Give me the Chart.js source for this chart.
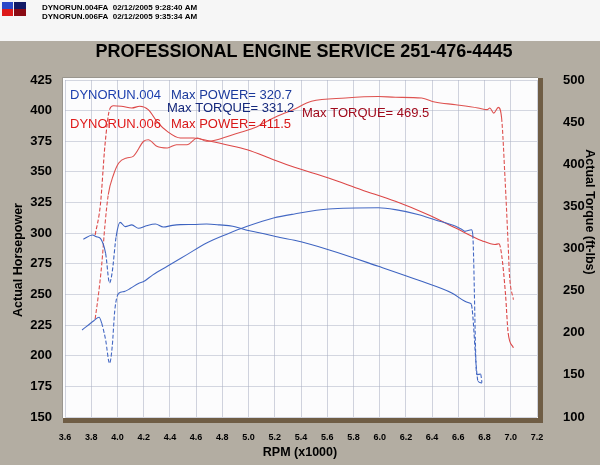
<!DOCTYPE html>
<html><head><meta charset="utf-8">
<script src="https://cdn.jsdelivr.net/npm/chart.js@4.4.0/dist/chart.umd.min.js"></script>
<style>html,body{margin:0;padding:0;background:#b3ada2;}canvas{display:block;}</style>
</head><body>
<canvas id="c" width="600" height="465"></canvas>
<script>
// ---- tick labels ----
const xTicks = [3.6,3.8,4.0,4.2,4.4,4.6,4.8,5.0,5.2,5.4,5.6,5.8,6.0,6.2,6.4,6.6,6.8,7.0,7.2];
const hpTicks = [150,175,200,225,250,275,300,325,350,375,400,425];
const tqTicks = [100,150,200,250,300,350,400,450,500];

// ---- DYNORUN.004 ----
const run004HpRpm = [3.73,3.82,3.86,3.88,3.91,3.94,3.96,3.98,4.01,4.05,4.10,4.16,4.20,4.27,4.38,4.53,4.68,4.83,4.99,5.19,5.35,5.61,5.99,6.12,6.30,6.42,6.58,6.63,6.65,6.70,6.71,6.74,6.77,6.78];
const run004Hp    = [221,228.6,231.4,226.5,212.8,193.8,207.4,237.3,251,252.3,255,259,260.5,266,273,282.5,292,299,305.6,312.4,315.7,319.7,320.7,319.2,315.1,311,305.6,302.8,301.5,302.8,298.8,184.6,185,178];
const run004TqRpm = [3.74,3.81,3.84,3.87,3.91,3.94,3.96,3.99,4.02,4.06,4.11,4.16,4.22,4.29,4.35,4.42,4.48,4.58,4.68,4.78,4.88,4.98,5.09,5.24,5.35,5.61,5.99,6.32,6.55,6.65,6.69,6.70,6.74,6.75,6.78];
const run004Tq    = [311,316,314,312,294,259,272,314,331,326,328,324,327,329,325.5,327.5,328.3,328.5,329,328,326.4,322,318.4,313,309.7,298.6,278.9,261,247.2,237.3,235,233.3,154.2,142.4,140.4];

// ---- DYNORUN.006 ----
const run006HpRpm = [3.83,3.855,3.88,3.905,3.93,3.97,4.01,4.07,4.12,4.20,4.235,4.30,4.38,4.45,4.53,4.61,4.68,4.76,4.88,5.04,5.19,5.34,5.48,5.74,5.99,6.12,6.32,6.42,6.58,6.75,6.82,6.84,6.87,6.905,6.93,6.956,6.98,6.99,7.02];
const run006Hp    = [230,249.8,274.3,306.9,331.4,347.7,357.3,361.4,362.7,375,376.3,370.9,369.5,372.2,372.2,377.7,375,376.3,380.4,385.8,394,400.8,407.6,410.3,411.5,410.9,410.3,407,404.8,402.2,400.8,402.2,398,402.7,394,345,290.6,266.1,245.7];
const run006TqRpm = [3.83,3.87,3.905,3.94,3.97,4.03,4.11,4.17,4.235,4.30,4.38,4.48,4.58,4.71,4.83,4.99,5.19,5.35,5.61,5.86,6.12,6.37,6.58,6.78,6.88,6.91,6.93,6.96,6.98,7.02];
const run006Tq    = [316,352,423,465,469.5,468.8,466.8,468.8,464.8,451,439,431.2,431.2,427.2,423.2,417.3,405.4,396.4,383.7,369.8,356,340.1,324.3,309.3,304.7,305.7,292.7,245.2,199.7,182];

const pts = (xs, ys) => xs.map((x, i) => ({x: x, y: ys[i]}));
const steepDash = ctx => (Math.abs(ctx.p1.y - ctx.p0.y) > 4 * Math.abs(ctx.p1.x - ctx.p0.x)) ? [4, 2] : undefined;
const mk = (label, data, color, axis) => ({
  label, data, borderColor: color, borderWidth: 1.1, pointRadius: 0, fill: false,
  cubicInterpolationMode: 'monotone', yAxisID: axis, segment: {borderDash: steepDash}
});

const FONT = '"Liberation Sans", Arial, sans-serif';

const deco = {
  id: 'deco',
  beforeDraw(chart) {
    const ctx = chart.ctx, a = chart.chartArea;
    ctx.save();
    ctx.fillStyle = '#b3ada2';
    ctx.fillRect(0, 0, 600, 465);
    ctx.fillStyle = '#f6f6f6';
    ctx.fillRect(0, 0, 600, 41);
    // header icons
    ctx.fillStyle = '#2a48c8'; ctx.fillRect(2, 2, 11, 7);
    ctx.fillStyle = '#dd1a1a'; ctx.fillRect(2, 9, 11, 7);
    ctx.fillStyle = '#121a66'; ctx.fillRect(14, 2, 12, 7);
    ctx.fillStyle = '#8a0a14'; ctx.fillRect(14, 9, 12, 7);
    ctx.fillStyle = '#000';
    ctx.font = 'bold 8px ' + FONT;
    ctx.textBaseline = 'middle'; ctx.textAlign = 'left';
    ctx.fillText('DYNORUN.004FA  02/12/2005 9:28:40 AM', 42, 8);
    ctx.fillText('DYNORUN.006FA  02/12/2005 9:35:34 AM', 42, 17);
    // plot background
    ctx.fillStyle = '#fcfcfd';
    ctx.fillRect(a.left - 2, a.top - 2, a.right - a.left + 4, a.bottom - a.top + 4);
    ctx.restore();
  },
  afterDraw(chart) {
    const ctx = chart.ctx, a = chart.chartArea;
    ctx.save();
    // borders
    ctx.fillStyle = '#6f5d45';
    ctx.fillRect(a.left - 2, a.bottom + 1, a.right - a.left + 8, 5);
    ctx.fillRect(a.right + 1, a.top - 2, 5, a.bottom - a.top + 8);
    ctx.strokeStyle = '#9a968e'; ctx.lineWidth = 1;
    ctx.beginPath();
    ctx.moveTo(a.left - 2.5, a.bottom + 1); ctx.lineTo(a.left - 2.5, a.top - 2.5); ctx.lineTo(a.right + 1, a.top - 2.5);
    ctx.stroke();
    // title
    ctx.fillStyle = '#000';
    ctx.font = 'bold 18px ' + FONT;
    ctx.textAlign = 'center'; ctx.textBaseline = 'middle';
    ctx.fillText('PROFESSIONAL ENGINE SERVICE 251-476-4445', 304, 52);
    // axis titles
    ctx.font = 'bold 12.5px ' + FONT;
    ctx.fillText('RPM (x1000)', 300, 453);
    ctx.save(); ctx.translate(19, 260); ctx.rotate(-Math.PI / 2);
    ctx.fillText('Actual Horsepower', 0, 0); ctx.restore();
    ctx.save(); ctx.translate(589, 212); ctx.rotate(Math.PI / 2);
    ctx.fillText('Actual Torque (ft-lbs)', 0, 0); ctx.restore();
    // annotations
    ctx.font = '13px ' + FONT;
    ctx.textAlign = 'left'; ctx.textBaseline = 'alphabetic';
    ctx.fillStyle = '#1d3fae'; ctx.fillText('DYNORUN.004', 70, 99);
    ctx.fillStyle = '#1b3a9c'; ctx.fillText('Max POWER= 320.7', 171, 99);
    ctx.fillStyle = '#15287c'; ctx.fillText('Max TORQUE= 331.2', 167, 111.5);
    ctx.fillStyle = '#a00a1c'; ctx.fillText('Max TORQUE= 469.5', 302, 116.5);
    ctx.fillStyle = '#e01a1a'; ctx.fillText('DYNORUN.006', 70, 128);
    ctx.fillStyle = '#d81818'; ctx.fillText('Max POWER= 411.5', 171, 128);
    ctx.restore();
  }
};

const setTicks = arr => scale => { scale.ticks = arr.map(v => ({value: v})); };

new Chart(document.getElementById('c'), {
  type: 'line',
  data: {
    datasets: [
      mk('DYNORUN.004 Power', pts(run004HpRpm, run004Hp), '#4569c4', 'yHp'),
      mk('DYNORUN.004 Torque', pts(run004TqRpm, run004Tq), '#3d63c0', 'yTq'),
      mk('DYNORUN.006 Power', pts(run006HpRpm, run006Hp), '#de5250', 'yHp'),
      mk('DYNORUN.006 Torque', pts(run006TqRpm, run006Tq), '#dc4646', 'yTq')
    ]
  },
  options: {
    responsive: false, animation: false, devicePixelRatio: 1,
    layout: {padding: {top: 80, left: 0, right: 0, bottom: 0}},
    plugins: {legend: {display: false}, tooltip: {enabled: false}, title: {display: false}},
    scales: {
      x: {
        type: 'linear', min: 3.6, max: 7.2,
        afterBuildTicks: setTicks(xTicks),
        afterFit: s => { s.height = 48; },
        border: {display: false},
        grid: {color: 'rgba(170,175,195,0.55)', lineWidth: 1, drawTicks: false},
        ticks: {padding: 15, color: '#000', font: {family: FONT, size: 9, weight: 'bold'}, maxRotation: 0, autoSkip: false,
                callback: v => Number(v).toFixed(1)}
      },
      yHp: {
        type: 'linear', position: 'left', min: 150, max: 425,
        afterBuildTicks: setTicks(hpTicks),
        afterFit: s => { s.width = 65; },
        border: {display: false},
        grid: {color: 'rgba(170,175,195,0.5)', lineWidth: 1, drawTicks: false, borderDash: [3, 2]},
        ticks: {padding: 13, color: '#000', font: {family: FONT, size: 13, weight: 'bold'}, autoSkip: false}
      },
      yTq: {
        type: 'linear', position: 'right', min: 100, max: 500,
        afterBuildTicks: setTicks(tqTicks),
        afterFit: s => { s.width = 63; },
        border: {display: false},
        grid: {display: false, drawOnChartArea: false},
        ticks: {padding: 18, color: '#000', font: {family: FONT, size: 13, weight: 'bold'}, autoSkip: false}
      }
    }
  },
  plugins: [deco]
});
</script>
</body></html>
